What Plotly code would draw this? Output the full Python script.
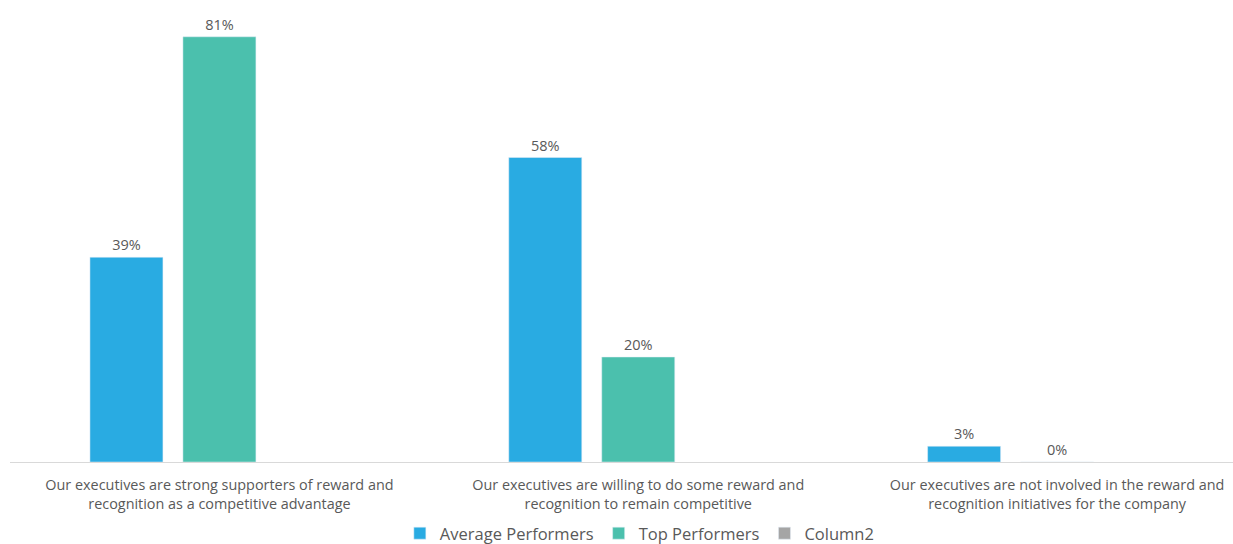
import plotly.graph_objects as go

categories = [
    "Our executives are strong supporters of reward and<br>recognition as a competitive advantage",
    "Our executives are willing to do some reward and<br>recognition to remain competitive",
    "Our executives are not involved in the reward and<br>recognition initiatives for the company",
]
average_performers = [39, 58, 3]
top_performers = [81, 20, 0]
column2 = [None, None, None]

font_family = "Open Sans, Lato, sans-serif"
text_color = "#595959"

fig = go.Figure()
fig.add_trace(go.Bar(
    name="Average Performers", x=categories, y=average_performers,
    marker_color="#29ABE2",
    text=[f"{v}%" for v in average_performers], textposition="outside",
    textfont=dict(size=14.5, color=text_color), cliponaxis=False,
))
fig.add_trace(go.Bar(
    name="Top Performers", x=categories, y=top_performers,
    marker_color="#4BC0AD",
    text=[f"{v}%" for v in top_performers], textposition="outside",
    textfont=dict(size=14.5, color=text_color), cliponaxis=False,
))
fig.add_trace(go.Bar(
    name="Column2", x=categories, y=column2,
    marker_color="#A5A5A5",
))

fig.update_layout(
    width=1233, height=544,
    margin=dict(l=10, r=0, t=10, b=82, autoexpand=False),
    paper_bgcolor="white", plot_bgcolor="white",
    barmode="group", bargap=0.334, bargroupgap=0.215,
    font=dict(family=font_family, color=text_color),
    showlegend=True,
    legend=dict(
        orientation="h", x=0.515, xanchor="center", y=-0.158, yanchor="middle",
        font=dict(size=16.5, color=text_color),
        itemwidth=30,
    ),
)
fig.update_xaxes(
    range=[-0.5, 2.42], showline=True, linecolor="#D9D9D9", linewidth=1,
    showgrid=False, ticks="", tickfont=dict(size=14.4, color=text_color),
    tickangle=0, automargin=False, ticklabelstandoff=10,
)
fig.update_yaxes(
    range=[0, 86.1], showgrid=False, zeroline=False, showticklabels=False,
    showline=False, ticks="", automargin=False,
)

fig.write_html(
    "out.html",
    config={"displayModeBar": False},
    post_script="document.body.style.margin='0';document.body.style.overflow='hidden';",
)
